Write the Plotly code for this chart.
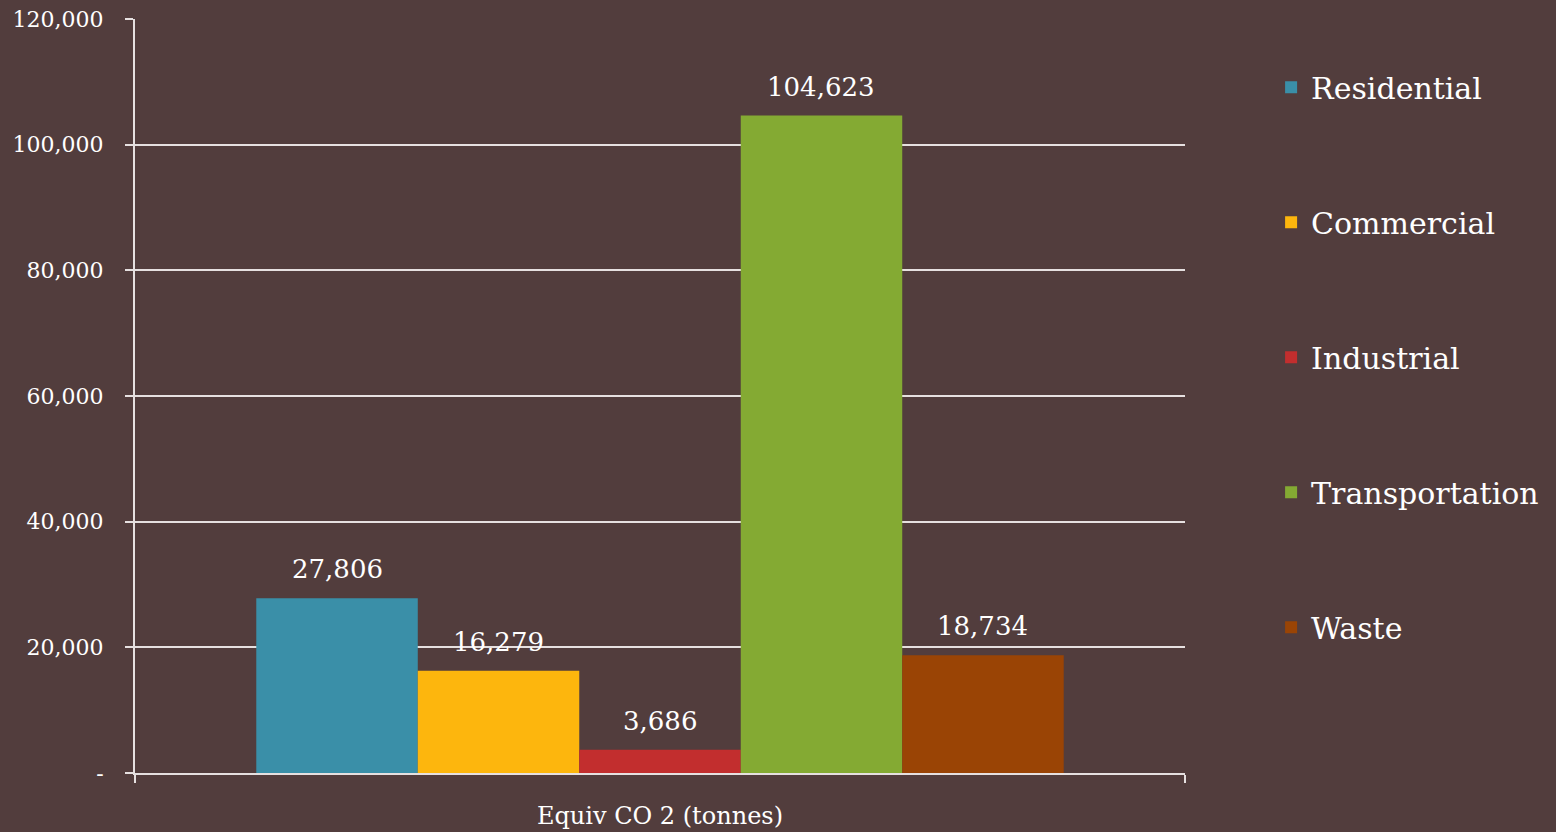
import plotly.graph_objects as go

category = ["Equiv CO 2 (tonnes)"]
series_names = ["Residential", "Commercial", "Industrial", "Transportation", "Waste"]
series_values = [27806, 16279, 3686, 104623, 18734]
series_colors = ["#3A8FA8", "#FDB60D", "#C22E2E", "#84AA33", "#9A4405"]
y_tick_vals = [0, 20000, 40000, 60000, 80000, 100000, 120000]
y_tick_text = ["-", "20,000", "40,000", "60,000", "80,000", "100,000", "120,000"]

FONT = "DejaVu Serif"
BG = "#523D3D"
BARGAP = 0.231
LINE = "#E6E0E0"

fig = go.Figure()
n = len(series_names)
bar_w = (1 - BARGAP) / n
for i, (name, val, col) in enumerate(zip(series_names, series_values, series_colors)):
    fig.add_trace(go.Bar(
        x=category, y=[val], name=name, marker=dict(color=col, line=dict(width=0)),
        legendgroup=name, cliponaxis=False,
    ))
    fig.add_annotation(
        x=(i - (n - 1) / 2) * bar_w, y=val, xref="x", yref="y",
        text=f"{val:,}", showarrow=False, yanchor="bottom", yshift=12,
        font=dict(family=FONT, size=26, color="white"),
    )

fig.update_layout(
    width=1556, height=832,
    paper_bgcolor=BG, plot_bgcolor=BG,
    margin=dict(l=135, r=367, t=19, b=59),
    barmode="group", bargap=BARGAP, bargroupgap=0,
    font=dict(family=FONT, color="white", size=22),
    showlegend=True,
    legend=dict(
        x=1.082, xanchor="left", y=0.944, yanchor="top",
        font=dict(family=FONT, size=30, color="white"),
        tracegroupgap=93, bgcolor="rgba(0,0,0,0)",
    ),
)
fig.update_yaxes(
    range=[0, 120000], tickvals=y_tick_vals, ticktext=y_tick_text,
    showgrid=True, gridcolor=LINE, gridwidth=1.5,
    showline=True, linecolor=LINE, linewidth=2,
    ticks="outside", ticklen=8, tickcolor=LINE, tickwidth=1.5,
    tickfont=dict(family=FONT, size=22, color="white"),
    zeroline=False, ticklabelstandoff=17, automargin=False,
)
fig.update_xaxes(
    showline=True, linecolor=LINE, linewidth=2,
    ticks="outside", ticklen=8, tickcolor=LINE, tickwidth=2,
    tickson="boundaries", ticklabelstandoff=20, automargin=False,
    tickfont=dict(family=FONT, size=24, color="white"),
)
fig.write_html(
    "out.html",
    config={"displayModeBar": False},
    post_script="document.body.style.margin='0';document.body.style.background='%s';" % BG,
)
